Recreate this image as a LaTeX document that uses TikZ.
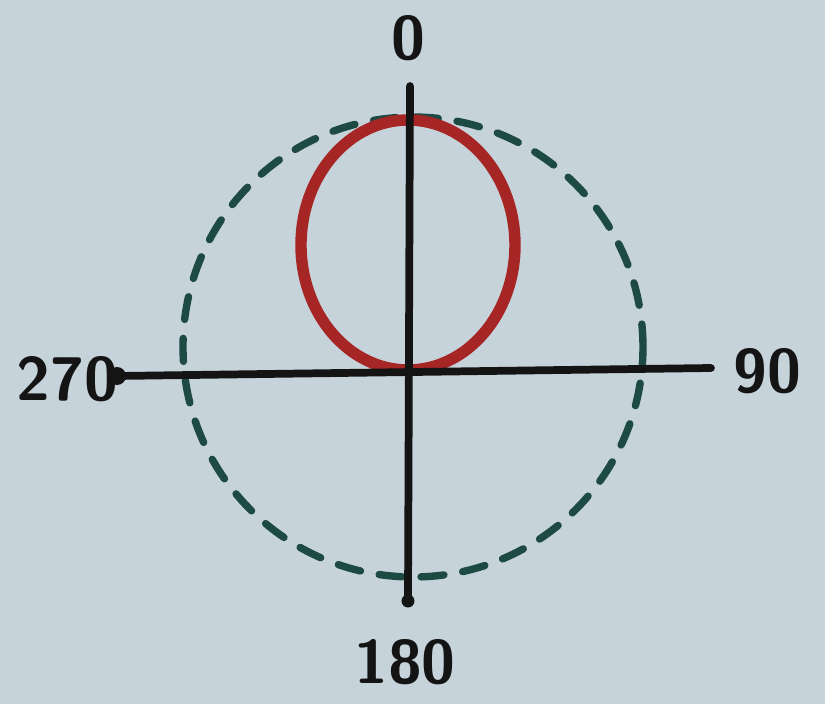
\documentclass[tikz,border=0pt]{standalone}
\usepackage{tikz}
\usetikzlibrary{arrows.meta, positioning, calc}
\definecolor{sboard}{HTML}{C6D3DA}
\definecolor{sink}{HTML}{141414}
\definecolor{sred}{HTML}{A62626}
\definecolor{steal}{HTML}{1E4A44}
\tikzset{
  font=\sffamily,
  axis/.style={draw=sink, line width=4.4pt, line cap=round},
  enddot/.style={circle, fill=sink, inner sep=0pt, minimum size=#1},
  enddot/.default=0.36cm,
  lobe/.style={draw=sred, line width=6.5pt},
  unitring/.style={draw=steal, line width=4.2pt, dash pattern=on 0.46cm off 0.38cm, line cap=round},
  lab/.style={text=sink, font=\fontsize{35}{37}\selectfont\sffamily\bfseries, inner sep=2pt}
}
\begin{document}
\begin{tikzpicture}
  \fill[sboard] (-8.24,-6.64) rectangle (8.26,7.44);
  \useasboundingbox (-8.24,-6.64) rectangle (8.26,7.44);
  % axis ends
  \coordinate (top) at (-0.04,5.72);
  \coordinate (bot) at (-0.08,-4.58);
  \coordinate (lft) at (-5.9,-0.08);
  \coordinate (rgt) at (5.98,0.08);
  % dashed ring and red lobe
  \draw[unitring] (0.02,0.5) circle (4.6);
  \draw[lobe] (-0.08,2.54) ellipse (2.14 and 2.5);
  % axes
  \draw[axis] (lft) -- (rgt);
  \draw[axis] (bot) -- (top);
  \node[enddot] (ldot) at (lft) {};
  \node[enddot=0.26cm] (bdot) at (bot) {};
  % labels
  \node[lab] (l0) at (-0.08,6.68) {0};
  \node[lab,anchor=west] (l90) at (6.36,0.02) {90};
  \node[lab,anchor=east] (l270) at (-5.8,-0.14) {270};
  \node[lab] (l180) at (-0.14,-5.8) {180};
\end{tikzpicture}
\end{document}
